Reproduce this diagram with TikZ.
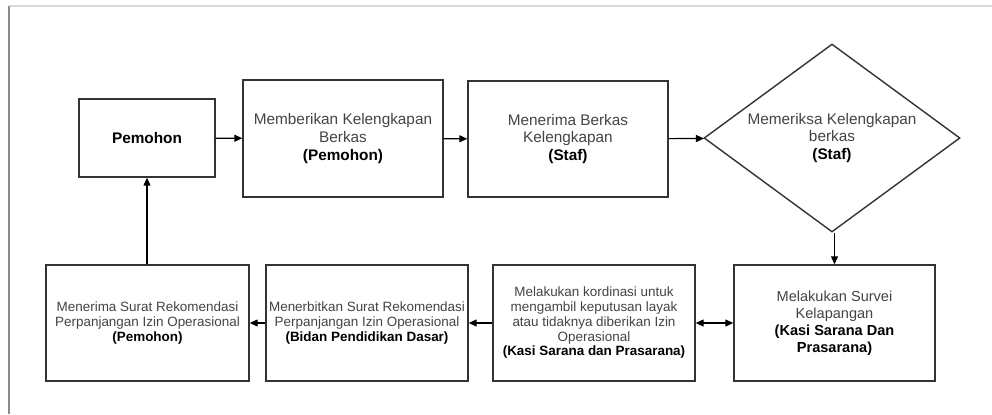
\documentclass[tikz,border=0pt]{standalone}
\usepackage{fontspec}
\setmainfont{Liberation Sans}
\usetikzlibrary{shapes.geometric,arrows.meta}
\definecolor{edge}{HTML}{333333}
\definecolor{txt}{HTML}{444444}
\begin{document}
\begin{tikzpicture}[x=1bp,y=-1bp,
  box/.style={draw=edge,line width=1.4bp,rectangle,align=center,inner sep=0pt,text=txt},
  upfont/.style={font=\fontsize{15.4}{18}\selectfont},
  lowfont/.style={font=\fontsize{13.5}{14.8}\selectfont},
  conn/.style={draw=black,line width=1.2bp,-{Triangle[length=8bp,width=7bp]}},
  dconn/.style={draw=black,line width=1.2bp,{Triangle[length=8bp,width=7bp]}-{Triangle[length=8bp,width=7bp]}}]
\useasboundingbox (0,0) rectangle (992,414);
\fill[white] (0,0) rectangle (992,414);
\draw[black!15,line width=1.5bp] (9,6) -- (992,6);
\draw[black!45,line width=1.2bp] (9,6) -- (9,414);

\node[box,upfont,minimum width=136bp,minimum height=78bp] (pem) at (147,138) {\textbf{\color{black}Pemohon}};
\node[box,upfont,minimum width=200bp,minimum height=117bp] (b2) at (343,138.5) {Memberikan Kelengkapan\\Berkas\\\textbf{\color{black}(Pemohon)}};
\node[box,upfont,minimum width=200bp,minimum height=116bp] (b3) at (568,139) {Menerima Berkas\\Kelengkapan\\\textbf{\color{black}(Staf)}};
\node[draw=edge,line width=1.4bp,diamond,aspect=1.36,minimum width=256bp,minimum height=188bp,inner sep=0pt,align=center,upfont,text=txt] (dia) at (832,138) {Memeriksa Kelengkapan\\berkas\\\textbf{\color{black}(Staf)}};

\node[box,font=\fontsize{14.6}{17}\selectfont,minimum width=201bp,minimum height=116bp] (d) at (834.5,323) {Melakukan Survei\\Kelapangan\\\textbf{\color{black}(Kasi Sarana Dan}\\\textbf{\color{black}Prasarana)}};
\node[box,lowfont,minimum width=202bp,minimum height=116bp] (c) at (594,323) {Melakukan kordinasi untuk\\mengambil keputusan layak\\atau tidaknya diberikan Izin\\Operasional\\\textbf{\color{black}(Kasi Sarana dan Prasarana)}};
\node[box,lowfont,minimum width=202bp,minimum height=116bp] (b) at (367,323) {Menerbitkan Surat Rekomendasi\\Perpanjangan Izin Operasional\\\textbf{\color{black}(Bidan Pendidikan Dasar)}};
\node[box,lowfont,minimum width=203bp,minimum height=116bp] (a) at (147.5,323) {Menerima Surat Rekomendasi\\Perpanjangan Izin Operasional\\\textbf{\color{black}(Pemohon)}};

\draw[conn] (pem) -- (b2);
\draw[conn] (b2) -- (b3);
\draw[conn] (b3) -- (dia);
\draw[conn] (dia.south -| d.north) -- (d.north);
\draw[dconn] (c) -- (d);
\draw[conn] (c) -- (b);
\draw[conn] (b) -- (a);
\draw[conn] (a.north -| pem.south) -- (pem.south);
\end{tikzpicture}
\end{document}
